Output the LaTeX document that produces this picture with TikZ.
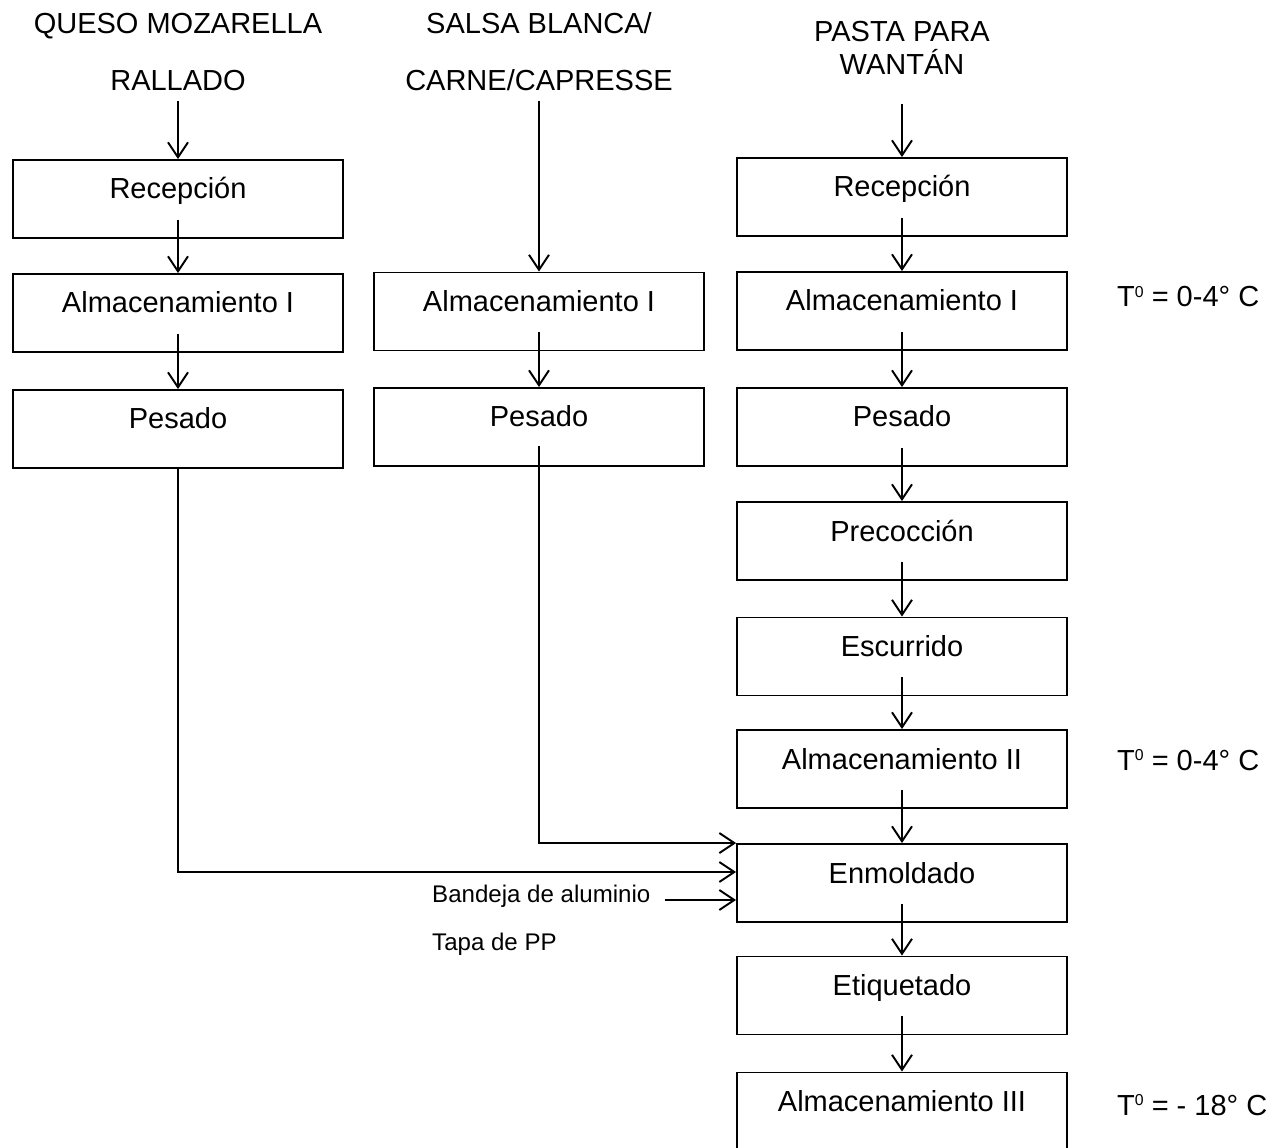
\documentclass[tikz,border=0pt]{standalone}
\usepackage{fontspec}
\setmainfont{Liberation Sans}
\usetikzlibrary{arrows.meta}

\newcommand{\tsup}{T\raisebox{5.4pt}{\fontsize{9}{9}\selectfont 0}}

\begin{document}
\begin{tikzpicture}[x=0.02cm, y=-0.02cm,
  box/.style={draw, line width=1.1pt, minimum width=6.6cm, inner ysep=0pt,
    text height=0.78cm, text depth=0.78cm, font=\fontsize{16.5}{20}\selectfont},
  title/.style={anchor=base, font=\fontsize{16.5}{20}\selectfont},
  note/.style={anchor=base west, font=\fontsize{16.5}{20}\selectfont},
  small/.style={anchor=base west, font=\fontsize{13.7}{16}\selectfont},
  flow/.style={-{Straight Barb[length=0.3cm,width=0.4cm]}, line width=1.1pt}]
\useasboundingbox (0,0) rectangle (1288,1148);

% Headings
\node[title] (q1) at (178,34) {QUESO MOZARELLA};
\node[title] (q2) at (178,91) {RALLADO};
\node[title] (s1) at (539,34) {SALSA BLANCA/};
\node[title] (s2) at (539,91) {CARNE/CAPRESSE};
\node[title] (p1) at (902,42) {PASTA PARA};
\node[title] (p2) at (902,75) {WANTÁN};

% Queso
\node[box] (rec1) at (178,199) {Recepción};
\node[box] (alm1) at (178,313) {Almacenamiento I};
\node[box] (pes1) at (178,429) {Pesado};

% Salsa
\node[box] (alm2) at (539,311.5) {Almacenamiento I};
\node[box] (pes2) at (539,427) {Pesado};

% Pasta
\node[box] (rec3) at (902,197) {Recepción};
\node[box] (alm3) at (902,311) {Almacenamiento I};
\node[box] (pes3) at (902,427) {Pesado};
\node[box] (pre) at (902,541) {Precocción};
\node[box] (esc) at (902,656.5) {Escurrido};
\node[box] (almII) at (902,769) {Almacenamiento II};
\node[box] (enm) at (902,883) {Enmoldado};
\node[box] (eti) at (902,995.5) {Etiquetado};
\node[box] (almIII) at (902,1111.5) {Almacenamiento III};

% Temperatures
\node[note] (t1) at (1111,307) {\tsup{} = 0-4° C};
\node[note] (t2) at (1111,770) {\tsup{} = 0-4° C};
\node[note] (t3) at (1111,1115) {\tsup{} = - 18° C};

% Packaging
\node[small] (band) at (426,902) {Bandeja de aluminio};
\node[small] (tapa) at (426,950) {Tapa de PP};

% Arrows
\draw[flow] ([yshift=-0.08cm]q2.south) -- (rec1.north);
\draw[flow] ([yshift=-0.08cm]s2.south) -- (alm2.north);
\draw[flow] ([yshift=-0.46cm]p2.south) -- (rec3.north);

\draw[flow] ([yshift=0.38cm]rec1.south) -- (alm1.north);
\draw[flow] ([yshift=0.38cm]alm1.south) -- (pes1.north);
\draw[flow] ([yshift=0.38cm]alm2.south) -- (pes2.north);

\foreach \a/\b in {rec3/alm3, alm3/pes3, pes3/pre, pre/esc, esc/almII,
                   almII/enm, enm/eti, eti/almIII}
  \draw[flow] ([yshift=0.38cm]\a.south) -- (\b.north);

\draw[flow] (pes1.south) |- ([yshift=0.22cm]enm.west);
\draw[flow] ([yshift=0.42cm]pes2.south) |- (enm.north west);

\coordinate (bandin) at ([yshift=-0.34cm]enm.west);
\draw[flow] (band.east |- bandin) ++(8,0) -- (bandin);
\end{tikzpicture}
\end{document}
